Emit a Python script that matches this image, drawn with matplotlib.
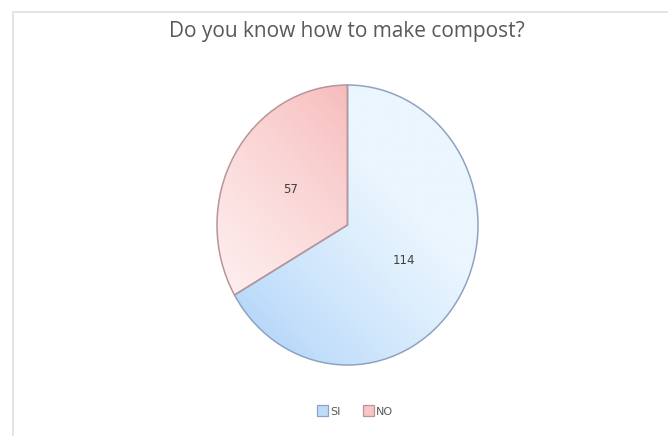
import numpy as np
import matplotlib
matplotlib.use("Agg")
import matplotlib.pyplot as plt
from matplotlib.patches import Patch
from matplotlib.colors import LinearSegmentedColormap
from matplotlib.lines import Line2D

title = "Do you know how to make compost?"
categories = ["SI", "NO"]
values = [114, 57]

# light / deep end of each slice's gradient, and outline colour
light_colors = ["#ebf6fe", "#fef0f0"]
deep_colors = ["#aed3f9", "#f7baba"]
edge_colors = ["#90a2c2", "#b99499"]
legend_colors = ["#bedcf9", "#f7c6c6"]

W, H = 668, 436
fig = plt.figure(figsize=(W / 100, H / 100), dpi=100)
fig.patch.set_facecolor("white")

# faint frame along top and left
bg = fig.add_axes([0, 0, 1, 1])
bg.set_xlim(0, W)
bg.set_ylim(H, 0)
bg.axis("off")
bg.add_line(Line2D([12.5, W], [12.5, 12.5], color="#e4e4e4", lw=1.4))
bg.add_line(Line2D([12.5, 12.5], [12.5, H], color="#e4e4e4", lw=1.4))

fig.text(347 / W, 1 - 31 / H, title, ha="center", va="center",
         fontsize=15, color="#595959", family="Open Sans")

# pie area (slightly squeezed horizontally)
px0, px1, py0, py1 = 217, 478, 85, 365
ax = fig.add_axes([px0 / W, 1 - py1 / H, (px1 - px0) / W, (py1 - py0) / H])
ax.axis("off")

total = sum(values)
wedges, texts, autotexts = ax.pie(
    values, startangle=90, counterclock=False, radius=1,
    autopct=lambda p: f"{round(p * total / 100)}", pctdistance=0.5,
    wedgeprops=dict(facecolor="none", linewidth=1.1),
    textprops=dict(fontsize=8.5, color="#404040"),
)
ax.set_xlim(-1, 1)
ax.set_ylim(-1, 1)
ax.set_aspect("auto")

n = 300
xs = np.linspace(-1, 1, n)
X, Y = np.meshgrid(xs, xs[::-1])
# SI: deep toward bottom-left, quickly fading; NO: deep toward its top corner
t_si = (X + Y + 2) / 4
g_si = np.clip((t_si - 0.1) / 0.55, 0, 1) ** 0.75
t_no = ((X + 1) + (Y + 0.5)) / 2.5
g_no = np.clip(1 - t_no, 0, 1) ** 0.8
grads = [g_si, g_no]
for w, g, lc, dc, ec in zip(wedges, grads, light_colors, deep_colors, edge_colors):
    cmap = LinearSegmentedColormap.from_list("g", [dc, lc])
    im = ax.imshow(g, extent=[-1, 1, -1, 1], cmap=cmap, vmin=0, vmax=1,
                   origin="upper", aspect="auto", zorder=0.5, interpolation="bilinear")
    im.set_clip_path(w)
    w.set_edgecolor(ec)
    w.set_zorder(1)
for t in autotexts:
    t.set_zorder(3)

handles = [Patch(facecolor=c, edgecolor=e, lw=0.9) for c, e in zip(legend_colors, edge_colors)]
fig.legend(handles, categories, loc="center", bbox_to_anchor=(355 / W, 1 - 411 / H),
           ncol=2, frameon=False, fontsize=8, handlelength=1.0, handleheight=1.1,
           handletextpad=0.15, columnspacing=2.0, labelcolor="#595959")

fig.savefig("out.png", dpi=100, facecolor="white")
